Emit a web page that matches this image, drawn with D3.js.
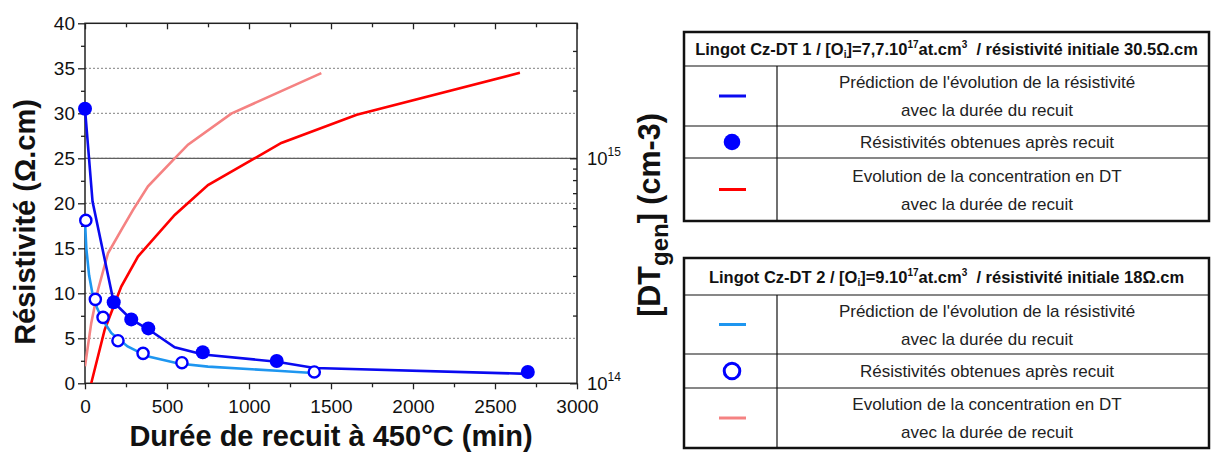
<!DOCTYPE html>
<html><head><meta charset="utf-8">
<script src="https://cdn.jsdelivr.net/npm/d3@7/dist/d3.min.js"></script>
<style>
html,body{margin:0;padding:0;background:#fff;}
text{font-family:"Liberation Sans",Arial,sans-serif;}
</style></head>
<body>
<svg id="chart" width="1213" height="462"></svg>
<script>
// ---- data ----
const xTicks = [0, 500, 1000, 1500, 2000, 2500, 3000];
const yTicks = [0, 5, 10, 15, 20, 25, 30, 35, 40];

const dt1PredTime = [0, 46, 175, 282, 386, 547, 720, 1170, 1400, 2700];
const dt1PredRes  = [30.5, 20.2, 9.0, 7.1, 6.0, 4.0, 3.2, 2.4, 1.7, 1.05];

const dt1MeasTime = [0, 175, 282, 386, 718, 1169, 2700];
const dt1MeasRes  = [30.5, 9.0, 7.1, 6.1, 3.45, 2.48, 1.26];

const dt2PredTime = [0, 8, 25, 45, 75, 110, 160, 260, 380, 570, 750, 1170, 1390];
const dt2PredRes  = [18, 15, 12, 10, 8.3, 7.0, 5.6, 4.1, 3.0, 2.2, 1.85, 1.4, 1.15];

const dt2MeasTime = [5, 63, 110, 201, 354, 591, 1398];
const dt2MeasRes  = [18.1, 9.33, 7.33, 4.73, 3.33, 2.29, 1.26];

const dt1ConcTime = [38, 120, 221, 323, 547, 750, 1197, 1657, 2652];
const dt1Conc     = [1e14, 1.73e14, 2.69e14, 3.66e14, 5.6e14, 7.6e14, 1.17e15, 1.56e15, 2.4e15];

const dt2ConcTime = [0, 38, 79, 140, 221, 293, 384, 547, 628, 892, 1441];
const dt2Conc     = [1.19e14, 1.85e14, 2.6e14, 3.78e14, 4.8e14, 5.9e14, 7.5e14, 1.0e15, 1.15e15, 1.58e15, 2.39e15];

const rightMajor = [1e14, 1e15];
const rightMinor = [2e14,3e14,4e14,5e14,6e14,7e14,8e14,9e14,2e15,3e15];

const legend1Title = ["Lingot Cz-DT 1 / [O","i","]=7,7.10","17","at.cm","3","\u00a0 / résistivité initiale 30.5Ω.cm"];
const legend2Title = ["Lingot Cz-DT 2 / [O","i","]=9.10","17","at.cm","3","\u00a0 / résistivité initiale 18Ω.cm"];
const legendRows = [
  ["Prédiction de l'évolution de la résistivité", "avec la durée du recuit"],
  ["Résistivités obtenues après recuit"],
  ["Evolution de la concentration en DT", "avec la durée de recuit"]
];

// ---- colours ----
const cDark = "#0a0af0", cDot = "#0000ff", cLight = "#1e96f0", cRed = "#ff0000", cPink = "#f58282";

const svg = d3.select("#chart");
svg.append("rect").attr("width",1213).attr("height",462).attr("fill","#fff");

const L = 85, R = 577, T = 23.3, B = 383.3;
const x = d3.scaleLinear().domain([0,3000]).range([L,R]);
const y = d3.scaleLinear().domain([0,40]).range([B,T]);
const yR = d3.scaleLog().domain([1e14, Math.pow(10,15.6)]).range([B,T]);

// grid
const g = svg.append("g");
g.selectAll("line.grid").data(yTicks.filter(v=>v>0 && v<40)).join("line")
  .attr("x1",L).attr("x2",R).attr("y1",d=>y(d)).attr("y2",d=>y(d))
  .attr("stroke","#808080").attr("stroke-width",1).attr("stroke-dasharray","2,2");
g.append("line").attr("x1",L).attr("x2",R).attr("y1",yR(1e15)).attr("y2",yR(1e15))
  .attr("stroke","#606060").attr("stroke-width",1.2);

// axes
function styleAxis(sel){
  sel.select(".domain").remove();
  sel.selectAll(".tick line").attr("stroke","#222").attr("stroke-width",1.3);
  sel.selectAll(".tick text").attr("fill","#111").style("font-size","19px").style("font-family","'Liberation Sans',Arial,sans-serif");
}
svg.append("g").attr("transform",`translate(${L},0)`)
  .call(d3.axisLeft(y).tickValues(yTicks).tickSize(7).tickPadding(3).tickFormat(d3.format("d"))).call(styleAxis);
svg.append("g").attr("transform",`translate(${L},0)`)
  .call(d3.axisLeft(y).tickValues(d3.range(2.5,40,5)).tickSize(4).tickFormat("")).call(styleAxis);
svg.append("g").attr("transform",`translate(0,${B})`)
  .call(d3.axisBottom(x).tickValues(xTicks).tickSize(6).tickPadding(10).tickFormat(d3.format("d"))).call(styleAxis);
svg.append("g").attr("transform",`translate(0,${B})`)
  .call(d3.axisBottom(x).tickValues(d3.range(250,3000,500)).tickSize(4).tickFormat("")).call(styleAxis);
svg.append("g").attr("transform",`translate(0,${T})`)
  .call(d3.axisTop(x).tickValues(xTicks).tickSize(-6).tickFormat("")).call(styleAxis);
svg.append("g").attr("transform",`translate(0,${T})`)
  .call(d3.axisTop(x).tickValues(d3.range(250,3000,500)).tickSize(-4).tickFormat("")).call(styleAxis);
svg.append("g").attr("transform",`translate(${R},0)`)
  .call(d3.axisRight(yR).tickValues(rightMajor).tickSize(-7).tickFormat("")).call(styleAxis);
svg.append("g").attr("transform",`translate(${R},0)`)
  .call(d3.axisRight(yR).tickValues(rightMinor).tickSize(-4).tickFormat("")).call(styleAxis);

// frame
svg.append("rect").attr("x",L).attr("y",T).attr("width",R-L).attr("height",B-T)
  .attr("fill","none").attr("stroke","#222").attr("stroke-width",1.5);

// right tick labels
rightMajor.forEach(v=>{
  const t = svg.append("text").attr("x",R+10).attr("y",yR(v)+7).attr("fill","#111").style("font-size","18.5px");
  t.append("tspan").text("10");
  t.append("tspan").attr("dy",-9).style("font-size","12px").text(Math.round(Math.log10(v)));
});

// lines
const lineLin = (ts, vs) => d3.line()(ts.map((t,i)=>[x(t), y(vs[i])]));
const lineLog = (ts, vs) => d3.line()(ts.map((t,i)=>[x(t), yR(vs[i])]));
svg.append("defs").append("clipPath").attr("id","pc").append("rect")
  .attr("x",L).attr("y",T).attr("width",R-L).attr("height",B-T);
const pg = svg.append("g");
pg.append("path").attr("d",lineLog(dt2ConcTime,dt2Conc)).attr("fill","none").attr("stroke",cPink).attr("stroke-width",2.6).attr("clip-path","url(#pc)");
pg.append("path").attr("d",lineLog(dt1ConcTime,dt1Conc)).attr("fill","none").attr("stroke",cRed).attr("stroke-width",2.6).attr("clip-path","url(#pc)");
pg.append("path").attr("d",lineLin(dt2PredTime,dt2PredRes)).attr("fill","none").attr("stroke",cLight).attr("stroke-width",2.6);
pg.append("path").attr("d",lineLin(dt1PredTime,dt1PredRes)).attr("fill","none").attr("stroke",cDark).attr("stroke-width",2.6);

pg.selectAll("circle.m1").data(dt1MeasTime).join("circle")
  .attr("cx",d=>x(d)).attr("cy",(d,i)=>y(dt1MeasRes[i])).attr("r",7).attr("fill",cDot);
pg.selectAll("circle.m2").data(dt2MeasTime).join("circle")
  .attr("cx",d=>x(d)).attr("cy",(d,i)=>y(dt2MeasRes[i])).attr("r",5.6).attr("fill","#fff").attr("stroke",cDot).attr("stroke-width",2.4);

// axis titles
svg.append("text").attr("x",331).attr("y",446).attr("text-anchor","middle")
  .style("font-size","29px").style("font-weight","bold").attr("fill","#111").text("Durée de recuit à 450°C (min)");
svg.append("text").attr("transform","translate(35,222) rotate(-90)").attr("text-anchor","middle")
  .style("font-size","29px").style("font-weight","bold").attr("fill","#111").text("Résistivité (Ω.cm)");
const rt = svg.append("text").attr("transform","translate(660,215) rotate(-90)").attr("text-anchor","middle")
  .style("font-size","30.5px").style("font-weight","bold").attr("fill","#111");
rt.append("tspan").text("[DT");
rt.append("tspan").attr("dy",8).style("font-size","24px").text("gen");
rt.append("tspan").attr("dy",-8).text("] (cm-3)");

// legend tables
function table(rowsY, titleParts, icons){
  const lx = 684, rx = 1209, cx = 777;
  const gT = svg.append("g");
  const [y0,y1,y2,y3,y4] = rowsY;
  gT.append("rect").attr("x",lx).attr("y",y0).attr("width",rx-lx).attr("height",y4-y0)
    .attr("fill","#fff").attr("stroke","#111").attr("stroke-width",2.5);
  [y1,y2,y3].forEach(yy=>gT.append("line").attr("x1",lx).attr("x2",rx).attr("y1",yy).attr("y2",yy).attr("stroke","#111").attr("stroke-width",1.2));
  gT.append("line").attr("x1",cx).attr("x2",cx).attr("y1",y1).attr("y2",y4).attr("stroke","#111").attr("stroke-width",1.2);
  const tt = gT.append("text").attr("x",(lx+rx)/2).attr("y",(y0+y1)/2+6).attr("text-anchor","middle")
    .style("font-size","16.5px").style("font-weight","bold").attr("fill","#111");
  titleParts.forEach((p,i)=>{
    const s = tt.append("tspan").text(p);
    if (i===1){ s.attr("dy",3).style("font-size","10px"); }
    else if (i===2){ s.attr("dy",-3); }
    else if (i===3 || i===5){ s.attr("dy",-7).style("font-size","10px"); }
    else if (i===4 || i===6){ s.attr("dy",7); }
  });
  const tcx = (cx+rx)/2 - 6;
  const bands = [[y1,y2],[y2,y3],[y3,y4]];
  legendRows.forEach((lines,ri)=>{
    const [a,b] = bands[ri];
    const mid = (a+b)/2;
    lines.forEach((ln,li)=>{
      const off = lines.length===1 ? 0 : (li===0 ? -14 : 14);
      gT.append("text").attr("x",tcx).attr("y",mid+off+6).attr("text-anchor","middle")
        .style("font-size","17px").attr("fill","#222").text(ln);
    });
    icons[ri](gT, 732, mid);
  });
}
const lineIcon = col => (gg,cx,cy)=>gg.append("line").attr("x1",cx-13).attr("x2",cx+14).attr("y1",cy).attr("y2",cy).attr("stroke",col).attr("stroke-width",3);
table([32,66,126,158,221], legend1Title, [
  lineIcon(cDark),
  (gg,cx,cy)=>gg.append("circle").attr("cx",cx).attr("cy",cy).attr("r",8.3).attr("fill",cDot),
  lineIcon(cRed)
]);
table([258,295,354,388,448], legend2Title, [
  lineIcon(cLight),
  (gg,cx,cy)=>gg.append("circle").attr("cx",cx).attr("cy",cy).attr("r",7.8).attr("fill","#fff").attr("stroke",cDot).attr("stroke-width",3),
  lineIcon(cPink)
]);
</script>
</body></html>
